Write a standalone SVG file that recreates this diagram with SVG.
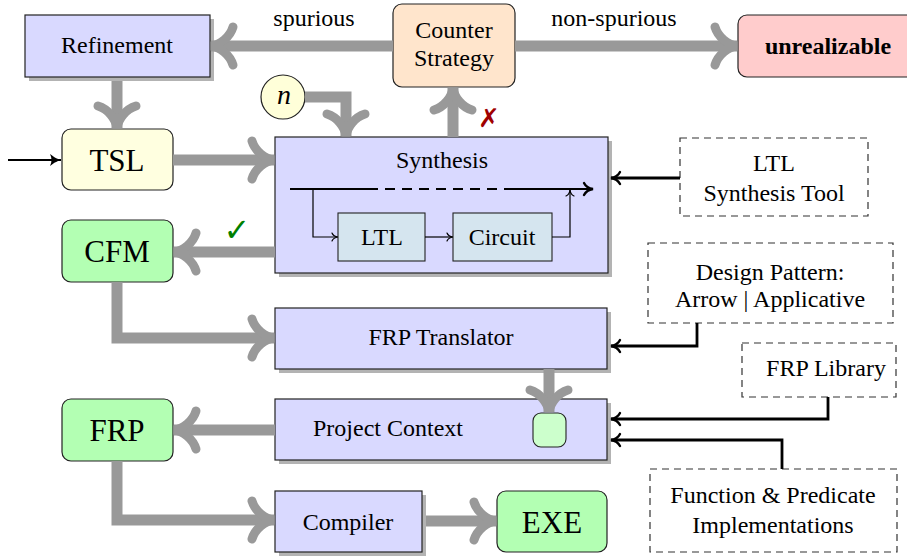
<svg xmlns="http://www.w3.org/2000/svg" width="907" height="556" viewBox="0 0 907 556">
<style>
text{font-family:"Liberation Serif","Times New Roman",serif;fill:#000;}
.t{font-size:24px;text-anchor:middle;}
.big{font-size:31px;text-anchor:middle;}
.box{fill:#d9d9ff;stroke:#222;stroke-width:1.2;}
.sh{fill:#b3b3b3;}
.dash{fill:#fff;stroke:#333;stroke-width:1.2;stroke-dasharray:7 5;}
.inner{fill:#d5e5ef;stroke:#222;stroke-width:1.1;}
.gray{fill:none;stroke:#999;stroke-width:11;marker-end:url(#big);}
.blk{fill:none;stroke:#000;stroke-width:2.8;marker-end:url(#sm);}
.thin{fill:none;stroke:#000;stroke-width:1.2;marker-end:url(#tiny);}
.sym{font-family:"DejaVu Sans",sans-serif;text-anchor:middle;}
</style>
<defs>
<marker id="big" markerUnits="userSpaceOnUse" viewBox="-32 -28 40 56" markerWidth="40" markerHeight="56" refX="0" refY="0" orient="auto" overflow="visible">
<path d="M-22,-19 C-19,-9 -9,-1 0,0 C-9,1 -19,9 -22,19" fill="none" stroke="#999" stroke-width="9" stroke-linecap="round"/>
</marker>
<marker id="sm" markerUnits="userSpaceOnUse" viewBox="-14 -10 18 20" markerWidth="18" markerHeight="20" refX="0" refY="0" orient="auto" overflow="visible">
<path d="M-9,-6 C-7,-2 -3,-0.5 0,0 C-3,0.5 -7,2 -9,6" fill="none" stroke="#000" stroke-width="2.4" stroke-linecap="round"/>
</marker>
<marker id="tiny" markerUnits="userSpaceOnUse" viewBox="-10 -8 14 16" markerWidth="14" markerHeight="16" refX="0" refY="0" orient="auto" overflow="visible">
<path d="M-6,-4 C-5,-1.5 -2,-0.3 0,0 C-2,0.3 -5,1.5 -6,4" fill="none" stroke="#000" stroke-width="1.2" stroke-linecap="round"/>
</marker>
<marker id="fill" markerUnits="userSpaceOnUse" viewBox="-14 -10 18 20" markerWidth="18" markerHeight="20" refX="0" refY="0" orient="auto" overflow="visible">
<path d="M-11,-6 C-6,-2 -3,-1 0,0 C-3,1 -6,2 -11,6 C-9,2 -9,-2 -11,-6 Z" fill="#000"/>
</marker>
</defs>

<g id="refinement">
<rect class="sh" x="29" y="19" width="185" height="62"/>
<rect class="box" x="25" y="15" width="185" height="62"/>
<text class="t" x="117" y="53">Refinement</text>
</g>

<g id="counter">
<rect x="393" y="4" width="122" height="83" rx="9" fill="#ffe5cc" stroke="#222" stroke-width="1.2"/>
<text class="t" x="454" y="38">Counter</text>
<text class="t" x="454" y="66">Strategy</text>
</g>

<g id="unrealizable">
<rect x="738" y="15" width="180" height="62" rx="9" fill="#ffcccc" stroke="#222" stroke-width="1.2"/>
<text class="t" x="828" y="54" font-weight="bold">unrealizable</text>
</g>

<g id="n">
<circle cx="283" cy="97" r="22" fill="#ffffd9" stroke="#222" stroke-width="1.2"/>
<text x="284" y="104" font-size="28" font-style="italic" text-anchor="middle">n</text>
</g>

<g id="tsl">
<rect x="62" y="129" width="111" height="61" rx="9" fill="#ffffe0" stroke="#222" stroke-width="1.2"/>
<text class="big" x="117" y="171">TSL</text>
</g>

<g id="cfm">
<rect x="62" y="220" width="111" height="62" rx="9" fill="#b3ffb3" stroke="#222" stroke-width="1.2"/>
<text class="big" x="117" y="262">CFM</text>
</g>

<g id="synthesis">
<rect class="sh" x="279" y="141" width="333" height="136"/>
<rect class="box" x="275" y="137" width="333" height="136"/>
<text class="t" x="442" y="168">Synthesis</text>
<line x1="290" y1="189" x2="368" y2="189" stroke="#000" stroke-width="2"/>
<line x1="368" y1="189" x2="512" y2="189" stroke="#000" stroke-width="2" stroke-dasharray="10 7"/>
<path d="M512,189 H593" fill="none" stroke="#000" stroke-width="2" marker-end="url(#sm)"/>
<path class="thin" d="M313,189 V237 H338"/>
<g id="ltl">
<rect class="inner" x="338" y="213" width="87" height="48"/>
<text class="t" x="382" y="245">LTL</text>
</g>
<path class="thin" d="M425,237 H453"/>
<g id="circuit">
<rect class="inner" x="453" y="213" width="99" height="48"/>
<text class="t" x="502" y="245">Circuit</text>
</g>
<path class="thin" d="M552,237 H570 V190"/>
</g>

<g id="ltl-tool">
<rect class="dash" x="680" y="138" width="188" height="78"/>
<text class="t" x="774" y="171">LTL</text>
<text class="t" x="774" y="201">Synthesis Tool</text>
</g>

<g id="design-pattern">
<rect class="dash" x="648" y="243" width="245" height="80"/>
<text class="t" x="770" y="280">Design Pattern:</text>
<text class="t" x="770" y="307">Arrow | Applicative</text>
</g>

<g id="frp-translator">
<rect class="sh" x="279" y="312" width="332" height="61"/>
<rect class="box" x="275" y="308" width="332" height="61"/>
<text class="t" x="441" y="345">FRP Translator</text>
</g>

<g id="frp-library">
<rect class="dash" x="742" y="343" width="154" height="54"/>
<text class="t" x="826" y="376">FRP Library</text>
</g>

<g id="project-context">
<rect class="sh" x="279" y="403" width="332" height="61"/>
<rect class="box" x="275" y="399" width="332" height="61"/>
<text class="t" x="388" y="436">Project Context</text>
<rect x="533" y="413" width="33" height="34" rx="8" fill="#ccffcc" stroke="#222" stroke-width="1.1"/>
</g>

<g id="frp">
<rect x="62" y="399" width="111" height="62" rx="9" fill="#b3ffb3" stroke="#222" stroke-width="1.2"/>
<text class="big" x="117" y="441">FRP</text>
</g>

<g id="function-impl">
<rect class="dash" x="650" y="469" width="247" height="83"/>
<text class="t" x="773" y="503">Function &amp; Predicate</text>
<text class="t" x="773" y="533">Implementations</text>
</g>

<g id="compiler">
<rect class="sh" x="279" y="495" width="147" height="61"/>
<rect class="box" x="275" y="491" width="147" height="61"/>
<text class="t" x="348" y="530">Compiler</text>
</g>

<g id="exe">
<rect x="497" y="491" width="110" height="61" rx="9" fill="#b3ffb3" stroke="#222" stroke-width="1.2"/>
<text class="big" x="552" y="533">EXE</text>
</g>

<g id="connectors">
<path class="gray" d="M393,46 H211"/>
<path class="gray" d="M515,46 H737"/>
<path class="gray" d="M117,81 V128"/>
<path class="gray" d="M305,97 H346 V136"/>
<path class="gray" d="M173,160 H274"/>
<path class="gray" d="M275,252 H174"/>
<path class="gray" d="M453,137 V88"/>
<path class="gray" d="M117,282 V338 H274"/>
<path class="gray" d="M549,369 V412"/>
<path class="gray" d="M275,430 H174"/>
<path class="gray" d="M117,461 V520 H274"/>
<path class="gray" d="M426,521 H496"/>
<path class="blk" d="M680,178 H611"/>
<path class="blk" d="M697,323 V346 H611"/>
<path class="blk" d="M828,397 V419 H611"/>
<path class="blk" d="M782,469 V440 H611"/>
<path d="M8,160 H61" fill="none" stroke="#000" stroke-width="2" marker-end="url(#fill)"/>
</g>

<g id="labels">
<text class="t" x="314" y="26">spurious</text>
<text class="t" x="614" y="26">non-spurious</text>
<text class="sym" x="237" y="241" font-size="32" font-weight="bold" style="fill:#008000">✓</text>
<text class="sym" x="489" y="127" font-size="26" font-weight="bold" style="fill:#a00000">✗</text>
</g>
</svg>
